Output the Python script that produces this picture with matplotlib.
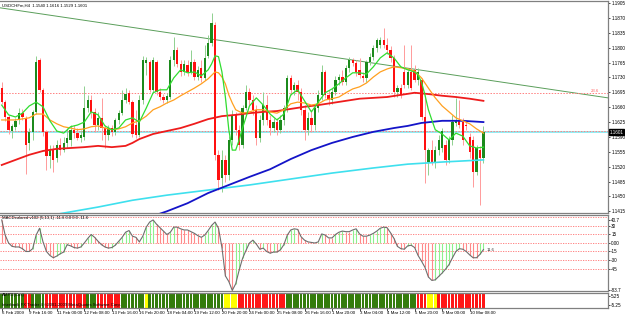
import numpy as np
import matplotlib
matplotlib.use("Agg")
from matplotlib import pyplot as plt
from matplotlib import transforms, font_manager

# ---------------- data: USDCHF H4 candles ----------------
opens = [1.1705, 1.1672, 1.1637, 1.1604, 1.1614, 1.1630, 1.1646, 1.1635, 1.1576, 1.1602,
         1.1649, 1.1772, 1.1701, 1.1602, 1.1545, 1.1559, 1.1540, 1.1571, 1.1559, 1.1576,
         1.1583, 1.1607, 1.1599, 1.1588, 1.1590, 1.1658, 1.1677, 1.1649, 1.1618, 1.1635,
         1.1611, 1.1595, 1.1611, 1.1602, 1.1630, 1.1646, 1.1677, 1.1694, 1.1672, 1.1618,
         1.1595, 1.1677, 1.1764, 1.1767, 1.1701, 1.1767, 1.1696, 1.1684, 1.1677, 1.1684,
         1.1772, 1.1795, 1.1762, 1.1743, 1.1760, 1.1743, 1.1767, 1.1731, 1.1753, 1.1729,
         1.1781, 1.1812, 1.1854, 1.1548, 1.1494, 1.1536, 1.1500, 1.1583, 1.1642, 1.1607,
         1.1571, 1.1658, 1.1696, 1.1677, 1.1654, 1.1588, 1.1630, 1.1665, 1.1630, 1.1611,
         1.1625, 1.1607, 1.1630, 1.1658, 1.1729, 1.1701, 1.1712, 1.1696, 1.1654, 1.1607,
         1.1635, 1.1618, 1.1658, 1.1689, 1.1743, 1.1689, 1.1677, 1.1696, 1.1724, 1.1731,
         1.1719, 1.1753, 1.1772, 1.1764, 1.1748, 1.1734, 1.1729, 1.1767, 1.1779, 1.1800,
         1.1807, 1.1819, 1.1807, 1.1795, 1.1776, 1.1696, 1.1705, 1.1743, 1.1712, 1.1743,
         1.1748, 1.1724, 1.1724, 1.1637, 1.1531, 1.1559, 1.1531, 1.1559, 1.1564, 1.1571,
         1.1536, 1.1583, 1.1623, 1.1630, 1.1625, 1.1618, 1.1590, 1.1583, 1.1507, 1.1559,
         1.1540]
highs = [1.1719, 1.1677, 1.1642, 1.1621, 1.1635, 1.1658, 1.1656, 1.1639, 1.1611, 1.1654,
         1.1781, 1.1776, 1.1705, 1.1607, 1.1571, 1.1571, 1.1583, 1.1588, 1.1590, 1.1611,
         1.1618, 1.1618, 1.1611, 1.1607, 1.1710, 1.1689, 1.1689, 1.1658, 1.1649, 1.1682,
         1.1618, 1.1618, 1.1618, 1.1635, 1.1654, 1.1701, 1.1705, 1.1701, 1.1677, 1.1654,
         1.1689, 1.1781, 1.1779, 1.1772, 1.1779, 1.1772, 1.1705, 1.1691, 1.1694, 1.1781,
         1.1826, 1.1802, 1.1772, 1.1772, 1.1772, 1.1795, 1.1774, 1.1757, 1.1772, 1.1807,
         1.1830, 1.1882, 1.1861, 1.1559, 1.1559, 1.1548, 1.1592, 1.1654, 1.1649, 1.1618,
         1.1665, 1.1712, 1.1705, 1.1689, 1.1665, 1.1642, 1.1696, 1.1689, 1.1642, 1.1635,
         1.1635, 1.1642, 1.1665, 1.1736, 1.1736, 1.1719, 1.1724, 1.1705, 1.1665, 1.1649,
         1.1654, 1.1668, 1.1701, 1.1760, 1.1748, 1.1701, 1.1705, 1.1734, 1.1738, 1.1748,
         1.1760, 1.1779, 1.1776, 1.1772, 1.1776, 1.1743, 1.1772, 1.1788, 1.1807, 1.1823,
         1.1826, 1.1847, 1.1823, 1.1804, 1.1783, 1.1712, 1.1715, 1.1807, 1.1748, 1.1807,
         1.1760, 1.1753, 1.1729, 1.1689, 1.1564, 1.1583, 1.1569, 1.1595, 1.1611, 1.1583,
         1.1592, 1.1642, 1.1682, 1.1677, 1.1635, 1.1630, 1.1599, 1.1592, 1.1571, 1.1569,
         1.1616]
lows = [1.1668, 1.1628, 1.1597, 1.1588, 1.1607, 1.1621, 1.1630, 1.1503, 1.1559, 1.1583,
        1.1644, 1.1696, 1.1592, 1.1512, 1.1517, 1.1507, 1.1531, 1.1548, 1.1555, 1.1564,
        1.1569, 1.1588, 1.1583, 1.1578, 1.1583, 1.1649, 1.1635, 1.1602, 1.1607, 1.1583,
        1.1564, 1.1583, 1.1592, 1.1595, 1.1621, 1.1642, 1.1670, 1.1668, 1.1590, 1.1588,
        1.1590, 1.1668, 1.1736, 1.1696, 1.1696, 1.1689, 1.1677, 1.1670, 1.1670, 1.1680,
        1.1757, 1.1755, 1.1734, 1.1736, 1.1734, 1.1738, 1.1724, 1.1724, 1.1719, 1.1724,
        1.1776, 1.1804, 1.1536, 1.1465, 1.1460, 1.1484, 1.1489, 1.1571, 1.1595, 1.1559,
        1.1564, 1.1654, 1.1665, 1.1642, 1.1571, 1.1578, 1.1618, 1.1618, 1.1595, 1.1602,
        1.1595, 1.1599, 1.1618, 1.1649, 1.1689, 1.1689, 1.1677, 1.1642, 1.1583, 1.1595,
        1.1602, 1.1607, 1.1649, 1.1677, 1.1682, 1.1665, 1.1668, 1.1689, 1.1712, 1.1712,
        1.1712, 1.1743, 1.1757, 1.1734, 1.1729, 1.1719, 1.1719, 1.1760, 1.1772, 1.1790,
        1.1800, 1.1800, 1.1786, 1.1767, 1.1684, 1.1684, 1.1682, 1.1705, 1.1705, 1.1701,
        1.1719, 1.1712, 1.1630, 1.1482, 1.1500, 1.1524, 1.1517, 1.1548, 1.1555, 1.1524,
        1.1529, 1.1571, 1.1616, 1.1611, 1.1571, 1.1607, 1.1540, 1.1472, 1.1500, 1.1430,
        1.1529]
closes = [1.1672, 1.1637, 1.1607, 1.1616, 1.1628, 1.1646, 1.1637, 1.1571, 1.1602, 1.1649,
          1.1767, 1.1701, 1.1602, 1.1545, 1.1559, 1.1536, 1.1571, 1.1559, 1.1576, 1.1588,
          1.1607, 1.1599, 1.1588, 1.1595, 1.1658, 1.1677, 1.1649, 1.1618, 1.1635, 1.1611,
          1.1595, 1.1611, 1.1602, 1.1630, 1.1646, 1.1677, 1.1691, 1.1672, 1.1597, 1.1595,
          1.1677, 1.1772, 1.1772, 1.1701, 1.1772, 1.1696, 1.1684, 1.1677, 1.1687, 1.1772,
          1.1795, 1.1762, 1.1743, 1.1762, 1.1743, 1.1767, 1.1731, 1.1748, 1.1729, 1.1776,
          1.1812, 1.1859, 1.1548, 1.1489, 1.1536, 1.1500, 1.1583, 1.1642, 1.1607, 1.1571,
          1.1658, 1.1696, 1.1677, 1.1654, 1.1588, 1.1630, 1.1665, 1.1630, 1.1611, 1.1625,
          1.1607, 1.1630, 1.1658, 1.1729, 1.1701, 1.1712, 1.1696, 1.1654, 1.1607, 1.1635,
          1.1618, 1.1658, 1.1689, 1.1743, 1.1689, 1.1677, 1.1696, 1.1724, 1.1731, 1.1719,
          1.1753, 1.1772, 1.1764, 1.1743, 1.1736, 1.1729, 1.1767, 1.1779, 1.1800, 1.1819,
          1.1819, 1.1807, 1.1795, 1.1776, 1.1696, 1.1705, 1.1689, 1.1712, 1.1743, 1.1705,
          1.1724, 1.1743, 1.1637, 1.1559, 1.1559, 1.1529, 1.1559, 1.1583, 1.1604, 1.1536,
          1.1583, 1.1625, 1.1630, 1.1618, 1.1583, 1.1616, 1.1555, 1.1507, 1.1564, 1.1540,
          1.1601]

# moving averages (bar index, value)
ma_fast_bars = [0, 2, 4, 6, 8, 10, 12, 14, 16, 18, 20, 22, 24, 26, 28, 30, 32, 34, 36, 38,
                40, 42, 44, 46, 48, 50, 52, 54, 56, 58, 60, 61, 62, 63, 64, 65, 66, 67, 68, 69,
                70, 72, 74, 76, 78, 80, 82, 84, 86, 88, 90, 92, 94, 96, 98, 100, 102, 104, 106, 108,
                110, 112, 114, 116, 118, 120, 121, 122, 123, 124, 125, 126, 128, 130, 132, 134, 136, 138, 140]
ma_fast = [1.1665, 1.1642, 1.1637, 1.1646, 1.1663, 1.1672, 1.1661, 1.1628, 1.1604, 1.1599,
           1.1614, 1.1618, 1.1625, 1.1649, 1.1642, 1.1616, 1.1607, 1.1611, 1.1630, 1.1635,
           1.1625, 1.1658, 1.1694, 1.1701, 1.1701, 1.1729, 1.1748, 1.1741, 1.1743, 1.1734,
           1.1748, 1.1762, 1.1781, 1.1779, 1.1743, 1.1684, 1.1607, 1.1559, 1.1559, 1.1583,
           1.1611, 1.1663, 1.1682, 1.1665, 1.1644, 1.1630, 1.1644, 1.1689, 1.1701, 1.1675,
           1.1649, 1.1672, 1.1694, 1.1703, 1.1715, 1.1729, 1.1741, 1.1741, 1.1738, 1.1755,
           1.1776, 1.1788, 1.1776, 1.1755, 1.1748, 1.1743, 1.1736, 1.1719, 1.1689, 1.1654,
           1.1630, 1.1607, 1.1597, 1.1583, 1.1599, 1.1592, 1.1569, 1.1564, 1.1566]

ma_mid_bars = [0, 4, 8, 10, 12, 14, 16, 18, 20, 22, 24, 26, 28, 30, 32, 34, 36, 38, 40, 42,
               44, 46, 48, 50, 52, 54, 56, 58, 60, 62, 63, 64, 65, 66, 67, 68, 70, 72, 74, 76,
               78, 80, 82, 84, 86, 88, 90, 92, 94, 96, 98, 100, 102, 104, 106, 108, 110, 112, 114, 116,
               118, 120, 122, 124, 126, 128, 130, 132, 134, 136, 138, 140]
ma_mid = [1.1630, 1.1630, 1.1635, 1.1644, 1.1644, 1.1630, 1.1621, 1.1614, 1.1611, 1.1607,
          1.1609, 1.1614, 1.1616, 1.1611, 1.1607, 1.1609, 1.1614, 1.1623, 1.1628, 1.1639,
          1.1654, 1.1661, 1.1670, 1.1677, 1.1687, 1.1696, 1.1705, 1.1715, 1.1727, 1.1743,
          1.1741, 1.1731, 1.1715, 1.1689, 1.1670, 1.1654, 1.1646, 1.1649, 1.1654, 1.1654,
          1.1649, 1.1646, 1.1654, 1.1668, 1.1672, 1.1670, 1.1665, 1.1668, 1.1677, 1.1680,
          1.1684, 1.1694, 1.1703, 1.1708, 1.1717, 1.1731, 1.1743, 1.1750, 1.1755, 1.1753,
          1.1750, 1.1745, 1.1729, 1.1705, 1.1682, 1.1663, 1.1649, 1.1635, 1.1628, 1.1621,
          1.1609, 1.1599]

ma_slow_bars = [0, 4, 8, 12, 16, 20, 24, 28, 32, 36, 38, 40, 44, 48, 52, 56, 60, 64, 68, 72,
                76, 80, 84, 88, 92, 96, 100, 104, 108, 112, 116, 120, 124, 128, 132, 136, 140]
ma_slow = [1.1524, 1.1536, 1.1548, 1.1557, 1.1562, 1.1564, 1.1566, 1.1569, 1.1566, 1.1569,
           1.1576, 1.1585, 1.1597, 1.1604, 1.1611, 1.1621, 1.1632, 1.1639, 1.1642, 1.1646,
           1.1649, 1.1651, 1.1656, 1.1661, 1.1665, 1.1670, 1.1675, 1.1680, 1.1682, 1.1684,
           1.1689, 1.1694, 1.1691, 1.1687, 1.1684, 1.1680, 1.1675]

ma_200_bars = [44, 48, 54, 60, 66, 72, 78, 84, 90, 96, 102, 108, 114, 118, 122, 128, 134, 140]
ma_200 = [1.1404, 1.1415, 1.1434, 1.1458, 1.1477, 1.1496, 1.1514, 1.1538, 1.1559, 1.1576,
          1.1590, 1.1602, 1.1611, 1.1616, 1.1623, 1.1628, 1.1628, 1.1625]

ma_365_bars = [16, 28, 38, 48, 60, 72, 84, 96, 108, 118, 128, 140]
ma_365 = [1.1408, 1.1425, 1.1441, 1.1453, 1.1465, 1.1477, 1.1491, 1.1505, 1.1517, 1.1526,
          1.1531, 1.1536]

# trend line and horizontal levels
trend_bars = [-0.5, 176.2]
trend_prices = [1.1894, 1.1682]
fib_level = 1.1694
fib_label = "23.6"
level_dotted = 1.1605
level_line = 1.1601
last_price = 1.1601

price_ticks = [1.1905, 1.1870, 1.1835, 1.1800, 1.1765, 1.1730, 1.1695, 1.1660, 1.1625,
               1.1590, 1.1555, 1.1520, 1.1485, 1.1450, 1.1415]

# MACD coloured histogram
macd = [40.7, 14, 0, -6, -7, -7, -10, -15, -15, -10,
        14, 26, 2, -15, -22, -26, -23, -19, -16, -3,
        -5, -8, -9, -7, 0, 8, 15, 10, 3, -3,
        -7, -9, -8, -4, 3, 10, 19, 22, 12, 10,
        2, 12, 28, 37, 40.7, 33, 27, 21, 15, 19,
        28, 28, 25, 23, 23, 20, 17, 13, 10, 14,
        22, 31, 37, 26, -8, -58, -68, -83.7, -72, -48,
        -27, -13, 0, 5, -2, -11, -9, -15, -18, -16,
        -16, -12, -3, 14, 23, 25, 24, 11, 5, 2,
        1, 0, 2, 16, 14, 9, 9, 15, 19, 21,
        20, 20, 23, 25, 16, 12, 12, 14, 17, 21,
        26, 28, 27, 18, 8, -6, -10, -11, -5, -4,
        -8, -22, -32, -43, -60, -66, -65, -59, -53, -46,
        -38, -26, -15, -10, -11, -15, -21, -26, -26, -20,
        -11.6]
macd_levels = [45, 30, 15, 0, -15, -30, -45]
macd_ticks = [40.7, 30, 15, 0, -15, -30, -45, -83.7]
macd_tick_labels = ["40.7", "30", "15", "0.00", "-15", "-30", "-45", "-83.7"]

# bottom colour-state indicator, as runs of bars
state_codes = ["g", "r", "g", "r", "g", "r", "g", "y", "g", "y", "r", "g", "r", "y", "r"]
state_lengths = [7, 2, 4, 12, 3, 7, 7, 1, 22, 4, 14, 38, 3, 3, 14]

date_bars = [0, 8, 16, 24, 32, 40, 48, 56, 64, 72, 80, 88, 96, 104, 112, 120, 128, 136]
date_labels = ["6 Feb 2009", "9 Feb 16:00", "11 Feb 00:00", "12 Feb 08:00", "13 Feb 16:00",
               "16 Feb 20:00", "18 Feb 04:00", "19 Feb 12:00", "20 Feb 20:00", "24 Feb 00:00",
               "25 Feb 08:00", "26 Feb 16:00", "1 Mar 20:00", "3 Mar 04:00", "4 Mar 12:00",
               "5 Mar 20:00", "9 Mar 00:00", "10 Mar 08:00"]

title_main = "USDCHFm,H4  1.1540 1.1616 1.1529 1.1601"
title_macd = "MACDcolored v102 (5,13,1) -11.6 0.0 0.0 -11.6"
title_state = "AMPD(Cus)"
copyright_txt = "Interbank FX Trader 4 \u00a92001-2009 MetaQuotes Software Corp."

# ---------------- fonts ----------------
avail = {f.name for f in font_manager.fontManager.ttflist}
if "Liberation Sans Narrow" in avail:
    plt.rcParams["font.family"] = ["Liberation Sans Narrow", "DejaVu Sans"]
    fs = 3.9
else:
    plt.rcParams["font.family"] = ["Liberation Sans", "DejaVu Sans"]
    fs = 3.3
fs_small = fs * 0.92

# ---------------- drawing ----------------
frame = "#808080"
xlim = (-0.5, 176.2)

fig = plt.figure(figsize=(6.25, 3.16), dpi=100)
ax = fig.add_axes([0, 103 / 316, 608 / 625, 212 / 316])
ax2 = fig.add_axes([0, 25 / 316, 608 / 625, 76 / 316])
ax3 = fig.add_axes([0, 8 / 316, 608 / 625, 15 / 316])

for a in (ax, ax2, ax3):
    a.set_xlim(*xlim)
    for s in a.spines.values():
        s.set_color(frame)
        s.set_linewidth(0.9)
    a.spines["left"].set_visible(False)
    a.yaxis.tick_right()
    a.tick_params(axis="y", length=1.5, width=0.5, pad=0.8, labelsize=fs, colors="black")
    a.tick_params(axis="x", bottom=False, labelbottom=False)

# --- candles
o = np.array(opens)
h = np.array(highs)
l = np.array(lows)
c = np.array(closes)
x = np.arange(len(c))
up = c >= o
wick_col = np.where(up, "#8fd08f", "#ff9a9a")
ax.vlines(x, l, h, colors=wick_col, lw=0.7, zorder=2)
body = np.where(np.abs(c - o) < 0.00008, 0.00008, c - o)
ax.bar(x[up], body[up], bottom=o[up], width=0.66, color="#1c8a1c", lw=0, zorder=3)
ax.bar(x[~up], body[~up], bottom=o[~up], width=0.66, color="#ff1010", lw=0, zorder=3)

# --- moving averages
ax.plot(ma_365_bars, ma_365, color="#3ee0ee", lw=1.2, zorder=4)
ax.plot(ma_200_bars, ma_200, color="#1414c8", lw=1.3, zorder=4)
ax.plot(ma_slow_bars, ma_slow, color="#ee1c1c", lw=1.3, zorder=4)
ax.plot(ma_mid_bars, ma_mid, color="#ffa020", lw=0.9, zorder=5)
ax.plot(ma_fast_bars, ma_fast, color="#30dd30", lw=0.9, zorder=5)

# --- trend line and levels
ax.plot(trend_bars, trend_prices, color="#5a9e5a", lw=0.7, zorder=1)
ax.axhline(fib_level, color="#ff8080", lw=0.7, ls=(0, (1.5, 1.5)), zorder=1)
ax.axhline(level_line, color="#7fe8f0", lw=1.2, zorder=1)
ax.axhline(level_dotted, color="#ff8080", lw=0.7, ls=(0, (1.5, 1.5)), zorder=1)
ax.text(173.5, fib_level, fib_label, color="#ff6060", fontsize=fs_small, ha="right", va="bottom")

ax.set_ylim(1.1411, 1.1910)
ax.set_yticks(price_ticks)
ax.set_yticklabels([f"{p:.4f}" for p in price_ticks])
tr = transforms.blended_transform_factory(ax.transAxes, ax.transData)
ax.text(1.003, last_price, f"{last_price:.4f}", transform=tr, color="white", fontsize=fs,
        ha="left", va="center", bbox=dict(boxstyle="square,pad=0.1", fc="black", ec="black"), zorder=10)
ax.text(0.003, 0.99, title_main, transform=ax.transAxes, fontsize=fs_small, va="top", ha="left")

# --- MACD panel
m = np.array(macd)
rising = np.diff(m, prepend=m[0] + 1) > 0
ax2.vlines(x, 0, m, colors=np.where(rising, "#8ef08e", "#ff8a8a"), lw=0.8, zorder=2)
ax2.plot(x, m, color="#6e6e6e", lw=0.8, zorder=3)
for lv in macd_levels:
    ax2.axhline(lv, color="#ff7070", lw=0.6, ls=(0, (1.5, 1.5)), zorder=1)
ax2.set_ylim(-84.7, 49.4)
ax2.set_yticks(macd_ticks)
ax2.set_yticklabels(macd_tick_labels)
ax2.text(0.003, 0.985, title_macd, transform=ax2.transAxes, fontsize=fs_small, va="top", ha="left")
ax2.text(x[-1] + 1, m[-1], f"{abs(m[-1]):.1f}", fontsize=fs_small, va="center", ha="left", color="#333333")

# --- colour state panel
cols = {"g": "#347c0c", "r": "#ff1616", "y": "#ffff00"}
states = np.repeat(state_codes, state_lengths)
ax3.bar(x, 16, bottom=-8, width=0.8, color=[cols[s] for s in states], lw=0)
ax3.set_ylim(-8, 8)
ax3.set_yticks([5.25, -5.25])
ax3.set_yticklabels(["5.25", "-5.25"])
ax3.text(0.003, 0.97, title_state, transform=ax3.transAxes, fontsize=fs_small, va="top", ha="left")
ax3.text(0.003, 0.06, copyright_txt, transform=ax3.transAxes, fontsize=fs_small, va="bottom", ha="left")
ax3.tick_params(axis="x", bottom=True, labelbottom=True, length=2, width=0.5, pad=0.5,
                labelsize=fs * 0.95, colors="black")
ax3.set_xticks(date_bars)
ax3.set_xticklabels(date_labels)
for lbl in ax3.get_xticklabels():
    lbl.set_ha("left")

fig.savefig("out.png", dpi=100, facecolor="white")
